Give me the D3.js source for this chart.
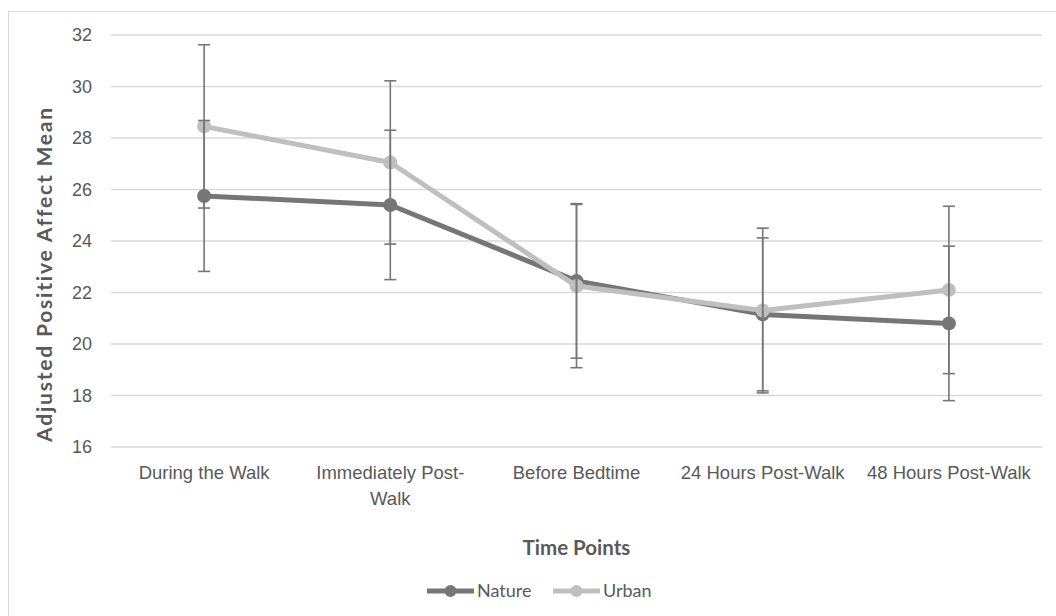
<!DOCTYPE html>
<meta charset="utf-8">
<style>
    body { margin: 0; background: #fff; }
    svg { font-family: Lato, sans-serif; }
</style>
<body>
<svg width="1056" height="616"></svg>
<script src="https://d3js.org/d3.v7.min.js"></script>
<script>
    // data
    var categories = ["During the Walk", "Immediately Post-Walk", "Before Bedtime", "24 Hours Post-Walk", "48 Hours Post-Walk"];
    var natureMean = [25.75, 25.4, 22.45, 21.15, 20.8];
    var natureErr = [2.93, 2.9, 3.0, 2.97, 3.0];
    var urbanMean = [28.45, 27.05, 22.25, 21.3, 22.1];
    var urbanErr = [3.17, 3.17, 3.17, 3.2, 3.25];
    var yTicks = [16, 18, 20, 22, 24, 26, 28, 30, 32];

    var svg = d3.select("svg");
    var margin = { top: 35, right: 14, bottom: 169, left: 111 },
        width = 1056 - margin.left - margin.right,
        height = 616 - margin.top - margin.bottom;

    var series = [
        { name: "Nature", mean: natureMean, err: natureErr, color: "#767676" },
        { name: "Urban", mean: urbanMean, err: urbanErr, color: "#bfbfbf" }
    ];

    // chart border (runs off right and bottom of the picture)
    svg.append("rect")
        .attr("x", 8.5).attr("y", 11.5)
        .attr("width", 1060).attr("height", 620)
        .attr("fill", "none").attr("stroke", "#d9d9d9");

    var x = d3.scaleBand().domain(categories).range([0, width]);
    var y = d3.scaleLinear().domain([16, 32]).range([height, 0]);

    var g = svg.append("g")
        .attr("transform", "translate(" + margin.left + "," + margin.top + ")");

    // gridlines
    g.selectAll(".grid").data(yTicks).enter().append("line")
        .attr("x1", 0).attr("x2", width)
        .attr("y1", function (d) { return y(d); })
        .attr("y2", function (d) { return y(d); })
        .attr("stroke", "#d9d9d9").attr("stroke-width", 1.3);

    var yAxis = g.append("g").call(d3.axisLeft(y).tickValues(yTicks).tickSize(0).tickPadding(19));
    yAxis.select(".domain").remove();
    yAxis.selectAll("text").attr("fill", "#595959").style("font-size", "18px");

    var xAxis = g.append("g").attr("transform", "translate(0," + height + ")")
        .call(d3.axisBottom(x).tickSize(0).tickPadding(0));
    xAxis.select(".domain").remove();
    xAxis.selectAll("text").remove();
    xAxis.selectAll(".tick").each(function (d) {
        var lines = d === "Immediately Post-Walk" ? ["Immediately Post-", "Walk"] : [d];
        var t = d3.select(this).append("text")
            .attr("fill", "#595959").attr("text-anchor", "middle")
            .style("font-size", "18.5px");
        lines.forEach(function (l, i) {
            t.append("tspan").attr("x", 0).attr("y", 32 + i * 26).text(l);
        });
    });

    var cx = function (i) { return x(categories[i]) + x.bandwidth() / 2; };
    var line = d3.line().x(function (d, i) { return cx(i); }).y(function (d) { return y(d); });

    series.forEach(function (s) {
        g.append("path").datum(s.mean)
            .attr("d", line).attr("fill", "none")
            .attr("stroke", s.color).attr("stroke-width", 5)
            .attr("stroke-linejoin", "round");
        g.selectAll(null).data(s.mean).enter().append("circle")
            .attr("cx", function (d, i) { return cx(i); })
            .attr("cy", function (d) { return y(d); })
            .attr("r", 7).attr("fill", s.color);
    });

    // error bars on top
    series.forEach(function (s) {
        var eb = g.append("g").attr("stroke", "#767676").attr("stroke-width", 1.6);
        s.mean.forEach(function (m, i) {
            var hi = y(m + s.err[i]), lo = y(m - s.err[i]), xc = cx(i);
            eb.append("line").attr("x1", xc).attr("x2", xc).attr("y1", hi).attr("y2", lo);
            eb.append("line").attr("x1", xc - 6).attr("x2", xc + 6).attr("y1", hi).attr("y2", hi);
            eb.append("line").attr("x1", xc - 6).attr("x2", xc + 6).attr("y1", lo).attr("y2", lo);
        });
    });

    // axis titles
    svg.append("text")
        .attr("transform", "translate(52,274) rotate(-90)")
        .attr("text-anchor", "middle").attr("fill", "#595959")
        .style("font-size", "21px").style("font-weight", "bold")
        .style("letter-spacing", "1.8px")
        .text("Adjusted  Positive Affect Mean");

    svg.append("text")
        .attr("x", margin.left + width / 2).attr("y", 555)
        .attr("text-anchor", "middle").attr("fill", "#595959")
        .style("font-size", "20.5px").style("font-weight", "bold")
        .text("Time Points");

    // legend
    var legend = svg.append("g").attr("transform", "translate(427,591)");
    series.forEach(function (s, i) {
        var lg = legend.append("g").attr("transform", "translate(" + (i * 126) + ",0)");
        lg.append("line").attr("x1", 0).attr("x2", 47).attr("y1", 0).attr("y2", 0)
            .attr("stroke", s.color).attr("stroke-width", 5);
        lg.append("circle").attr("cx", 23.5).attr("cy", 0).attr("r", 6).attr("fill", s.color);
        lg.append("text").attr("x", 50).attr("y", 6)
            .attr("fill", "#595959").style("font-size", "18px").text(s.name);
    });
</script>
</body>
